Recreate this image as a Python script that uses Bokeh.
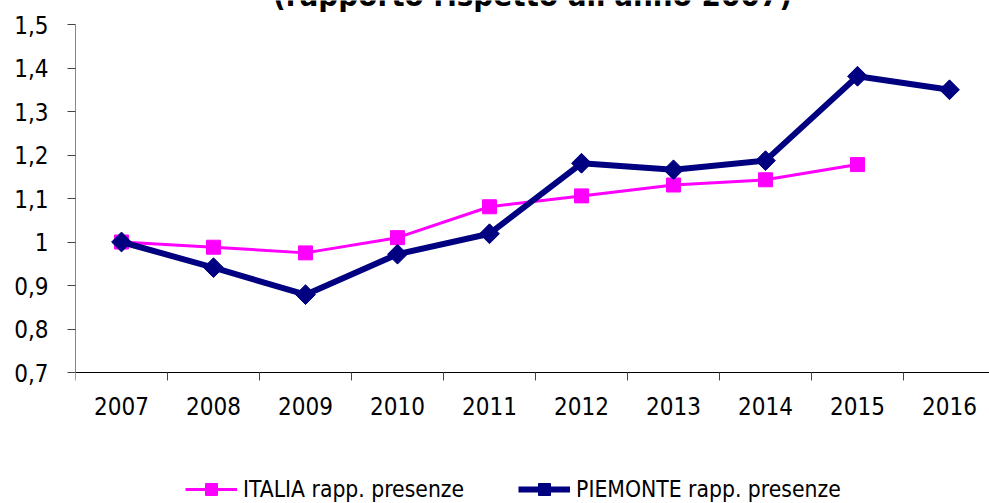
import math
from bokeh.plotting import figure
from bokeh.models import FixedTicker, Label, Legend, LegendItem, ColumnDataSource, Range1d
from bokeh.embed import file_html
from bokeh.resources import INLINE

# ---- data ----
years = ["2007", "2008", "2009", "2010", "2011", "2012", "2013", "2014", "2015", "2016"]
italia = [1.0, 0.988, 0.975, 1.01, 1.081, 1.106, 1.131, 1.143, 1.178, None]
piemonte = [1.0, 0.941, 0.879, 0.972, 1.019, 1.181, 1.166, 1.187, 1.381, 1.350]
y_ticks = [0.7, 0.8, 0.9, 1.0, 1.1, 1.2, 1.3, 1.4, 1.5]
y_labels = ["0,7", "0,8", "0,9", "1", "1,1", "1,2", "1,3", "1,4", "1,5"]
title_text = "(rapporto rispetto all'anno 2007)"
name_it = "ITALIA rapp. presenze"
name_pi = "PIEMONTE rapp. presenze"

FONT = "DejaVu Sans Condensed, DejaVu Sans"

xs = list(range(len(years)))
src = ColumnDataSource(dict(
    x=xs,
    it=[float("nan") if v is None else v for v in italia],
    pi=piemonte,
))

# ---- layout geometry (pixels) ----
W, H = 989, 503
left = 75
top_px = 24              # where the value axis maximum sits
axis_px = 372            # where the value axis minimum sits
cat_w = 92.0
frame_w = W - left
y_lo, y_hi = y_ticks[0], y_ticks[-1]
px_per_unit = (axis_px - top_px) / (y_hi - y_lo)
y_start = y_lo - (H - axis_px) / px_per_unit
y_end = y_hi + top_px / px_per_unit

p = figure(width=W, height=H, output_backend="svg", toolbar_location=None,
           x_range=Range1d(-0.5, -0.5 + frame_w / cat_w), y_range=Range1d(y_start, y_end),
           min_border_left=left, min_border_right=0, min_border_top=0,
           min_border_bottom=0)
p.outline_line_color = None
p.xgrid.visible = False
p.ygrid.visible = False
p.background_fill_color = "white"
p.border_fill_color = "white"

# y axis
p.yaxis.ticker = FixedTicker(ticks=y_ticks)
p.yaxis.bounds = (y_lo, y_hi)
p.yaxis.major_label_overrides = dict(zip(y_ticks, y_labels))
p.yaxis.axis_line_color = "#868686"
p.yaxis.major_tick_line_color = "#444444"
p.yaxis.major_tick_out = 8
p.yaxis.major_tick_in = 0
p.yaxis.minor_tick_line_color = None
p.yaxis.major_label_standoff = 19
p.yaxis.major_label_text_font = FONT
p.yaxis.major_label_text_font_size = "24px"
p.yaxis.major_label_text_color = "black"

# x axis, pinned at the value-axis minimum
p.xaxis.fixed_location = y_lo
p.xaxis.ticker = FixedTicker(ticks=xs, minor_ticks=[i - 0.5 for i in range(len(years) + 1)])
p.xaxis.major_label_overrides = {i: y for i, y in zip(xs, years)}
p.xaxis.axis_line_color = "black"
p.xaxis.major_tick_line_color = None
p.xaxis.major_tick_out = 0
p.xaxis.major_tick_in = 0
p.xaxis.minor_tick_line_color = "#444444"
p.xaxis.minor_tick_out = 8
p.xaxis.minor_tick_in = 0
p.xaxis.major_label_standoff = 16
p.xaxis.major_label_text_font = FONT
p.xaxis.major_label_text_font_size = "24px"
p.xaxis.major_label_text_color = "black"

# series
l_it = p.line("x", "it", source=src, line_color="#FF00FF", line_width=3)
s_it = p.scatter("x", "it", source=src, marker="square", size=14,
                 fill_color="#FF00FF", line_color="#FF00FF")
l_pi = p.line("x", "pi", source=src, line_color="#000080", line_width=6)
s_pi = p.scatter("x", "pi", source=src, marker="square", angle=math.pi / 4, size=14,
                 fill_color="#000080", line_color="#000080")

# title (cropped at top like the reference)
p.add_layout(Label(x=(p.x_range.start + p.x_range.end) / 2, y=y_hi + 30 / px_per_unit,
                   text=title_text, text_align="center", text_baseline="alphabetic",
                   text_font=FONT, text_font_style="bold", text_font_size="31px",
                   text_color="black"))

legend = Legend(items=[LegendItem(label=name_it, renderers=[l_it, s_it]),
                       LegendItem(label=name_pi, renderers=[l_pi, s_pi])],
                orientation="horizontal", location=(110, -1),
                glyph_width=52, glyph_height=30, label_standoff=6, spacing=54,
                padding=0, margin=0, border_line_color=None, background_fill_alpha=0,
                label_text_font=FONT, label_text_font_size="22.7px",
                label_text_color="black")
p.add_layout(legend, "center")

open("out.html", "w").write(file_html(p, INLINE))
